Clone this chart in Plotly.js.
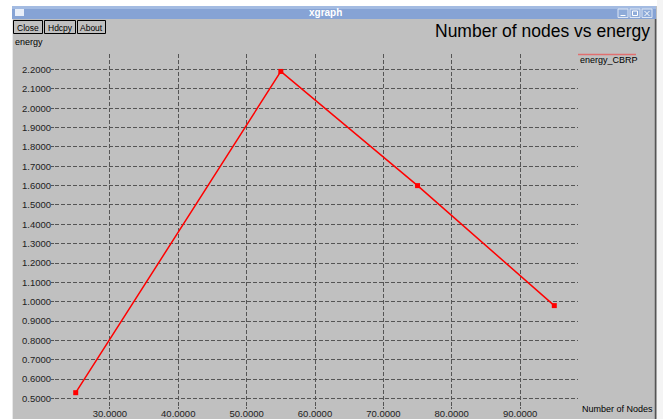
<!DOCTYPE html>
<html>
<head>
<meta charset="utf-8">
<script src="https://cdn.plot.ly/plotly-3.0.1.min.js"></script>
<style>html,body{margin:0;padding:0;background:#fff;}#chart{width:663px;height:419px;}</style>
</head>
<body>
<div id="chart"></div>
<script>
// Data
const nodes = [25, 55, 75, 95];
const energy = [0.53, 2.19, 1.60, 0.98];
const xTicks = [30, 40, 50, 60, 70, 80, 90];
const yTicks = [0.5, 0.6, 0.7, 0.8, 0.9, 1.0, 1.1, 1.2, 1.3, 1.4, 1.5, 1.6, 1.7, 1.8, 1.9, 2.0, 2.1, 2.2];
const xTickText = xTicks.map(v => v.toFixed(4));
const yTickText = yTicks.map(v => v.toFixed(4));
const seriesName = 'energy_CBRP';

const W = 663, H = 419;
const L = 55, R = 578, T = 54, B = 406;
function px(x) { return (x - L) / (R - L); }
function py(y) { return (B - y) / (B - T); }

const FONT = 'Liberation Sans, Arial, sans-serif';
const GRAY = '#c0c0c0';

function rect(x0, y0, x1, y1, fill, line, lw) {
  return {type: 'rect', xref: 'paper', yref: 'paper', x0: px(x0), x1: px(x1), y0: py(y0), y1: py(y1),
    fillcolor: fill, line: {color: line || fill, width: lw === undefined ? 0 : lw}, layer: 'above'};
}
function lineShape(x0, y0, x1, y1, color, w) {
  return {type: 'line', xref: 'paper', yref: 'paper', x0: px(x0), x1: px(x1), y0: py(y0), y1: py(y1),
    line: {color: color, width: w}, layer: 'above'};
}
function ann(text, x, y, size, color, xanchor, extra) {
  return Object.assign({text: text, xref: 'paper', yref: 'paper', x: px(x), y: py(y), showarrow: false,
    xanchor: xanchor || 'left', yanchor: 'middle', font: {family: FONT, size: size, color: color || '#000'}}, extra || {});
}

const shapes = [
  // outside of window (white)
  rect(0, -2, W + 2, 6, '#ffffff'),
  rect(-2, -2, 12, H + 2, '#ffffff'),
  rect(657, -2, W + 2, H + 2, '#f4f4f4'),
  // window borders
  lineShape(12.5, 6, 12.5, H, '#e8e8e8', 1),
  lineShape(655.5, 19, 655.5, H, '#555555', 1.5),
  // title bar
  rect(12, 6, 656, 19, '#86a3d5'),
  rect(12, 6, 656, 9, '#a3bbe2'),
  rect(15, 9, 24, 16, '#e8eef8', '#ffffff', 0),
  // title bar buttons
  rect(618, 9, 628, 17.5, '#8eabd9', '#dde6f4', 1),
  rect(630, 9, 640, 17.5, '#8eabd9', '#dde6f4', 1),
  rect(642, 9, 652, 17.5, '#8eabd9', '#dde6f4', 1),
  lineShape(620.5, 15.5, 625.5, 15.5, '#ffffff', 1),
  rect(632.5, 11, 637.5, 15.5, 'rgba(0,0,0,0)', '#ffffff', 1),
  lineShape(644.5, 11, 649.5, 16, '#ffffff', 1),
  lineShape(644.5, 16, 649.5, 11, '#ffffff', 1),
  // buttons
  rect(13.5, 20.5, 42.5, 33.5, GRAY, '#000000', 1),
  rect(44.5, 20.5, 75.5, 33.5, GRAY, '#000000', 1),
  rect(77.5, 20.5, 105.5, 33.5, GRAY, '#000000', 1),
  // legend line
  lineShape(578, 54.5, 636, 54.5, '#e07070', 1.5)
];

const annotations = [
  ann('<b>xgraph</b>', 325, 12.5, 10, '#ffffff', 'center'),
  ann('Close', 28, 27.5, 8.5, '#000', 'center'),
  ann('Hdcpy', 60, 27.5, 8.5, '#000', 'center'),
  ann('About', 91.5, 27.5, 8.5, '#000', 'center'),
  ann('Number of nodes vs energy', 542, 31, 17.5, '#000', 'center'),
  ann('energy', 13, 42, 9, '#000', 'left'),
  ann(seriesName, 578, 59.5, 9, '#000', 'left'),
  ann('Number of Nodes', 655, 409, 9, '#000', 'right')
];

const trace = {
  x: nodes, y: energy, type: 'scatter', mode: 'lines+markers', name: seriesName,
  line: {color: '#ff0000', width: 1.5},
  marker: {color: '#ff0000', symbol: 'square', size: 5},
  cliponaxis: false
};

const layout = {
  width: W, height: H,
  margin: {l: L, r: W - R, t: T, b: H - B, pad: 0},
  paper_bgcolor: GRAY, plot_bgcolor: GRAY,
  showlegend: false,
  xaxis: {
    range: [30 - (110 - L) / 6.85, 90 + (R - 520) / 6.85],
    tickvals: xTicks, ticktext: xTickText,
    showgrid: true, gridcolor: '#555555', gridwidth: 1, griddash: '4px,2px',
    zeroline: false, showline: false,
    ticks: 'outside', ticklen: 2, tickcolor: '#555555',
    ticklabelstandoff: -3,
    tickfont: {family: FONT, size: 9.5, color: '#222'}
  },
  yaxis: {
    range: [0.5 - (B - 398.5) / 193.5, 2.2 + (69.5 - T) / 193.5],
    tickvals: yTicks, ticktext: yTickText,
    showgrid: true, gridcolor: '#555555', gridwidth: 1, griddash: '4px,2px',
    zeroline: false, showline: false,
    ticks: 'outside', ticklen: 3, tickcolor: '#555555',
    ticklabelstandoff: -2,
    tickfont: {family: FONT, size: 9.5, color: '#222'}
  },
  shapes: shapes,
  annotations: annotations
};

Plotly.newPlot('chart', [trace], layout, {displayModeBar: false, staticPlot: true});
</script>
</body>
</html>
